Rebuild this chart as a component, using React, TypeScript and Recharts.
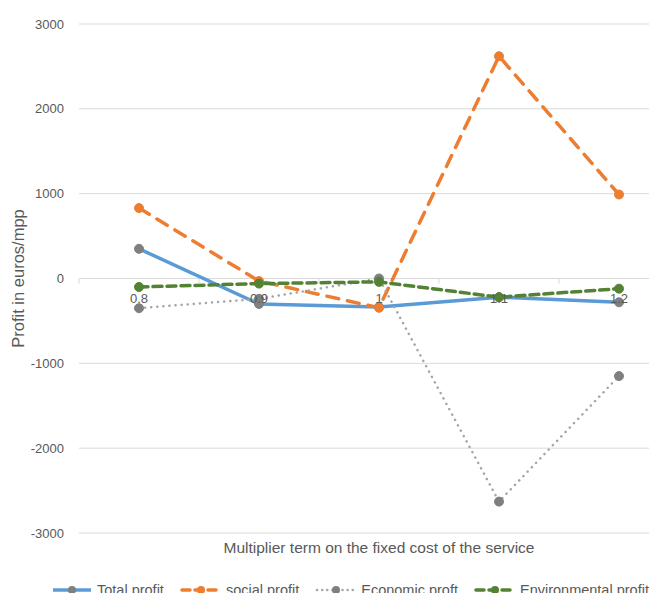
import React from 'react';
import { LineChart, Line, XAxis, YAxis, CartesianGrid } from 'recharts';

const multipliers = ['0.8', '0.9', '1', '1.1', '1.2'];
const totalProfit = [350, -300, -335, -220, -280];
const socialProfit = [830, -30, -345, 2620, 990];
const economicProfit = [-350, -240, 0, -2630, -1150];
const environmentalProfit = [-100, -60, -40, -220, -120];
const yTicks = [-3000, -2000, -1000, 0, 1000, 2000, 3000];

const data = multipliers.map((m, i) => ({
  m,
  total: totalProfit[i],
  social: socialProfit[i],
  economic: economicProfit[i],
  environmental: environmentalProfit[i],
}));

const W = 680;
const H = 601;
const TOP = 24;
const BOTTOM = 23;
const X_AXIS_H = 45;
const PLOT_H = H - TOP - BOTTOM - X_AXIS_H;
const ZERO_Y = TOP + PLOT_H / 2; // domain is symmetric
const BAND = 120;
const TEXT = '#595959';
const FONT = '"Liberation Sans", Arial, sans-serif';

const series = [
  { key: 'total', name: 'Total profit', color: '#5b9bd5', dot: '#7f7f7f', dash: undefined, width: 3.5 },
  { key: 'social', name: 'social profit', color: '#ed7d31', dot: '#ed7d31', dash: '12 9', width: 3.5 },
  { key: 'economic', name: 'Economic proft', color: '#a5a5a5', dot: '#7f7f7f', dash: '0.1 6', width: 2.5 },
  { key: 'environmental', name: 'Environmental profit', color: '#548235', dot: '#548235', dash: '9 5', width: 3.5 },
];

// x labels sit on the zero line, like Excel's crossing axis
const ZeroTick = (props: any) => {
  const { x, payload } = props;
  return (
    <g>
      <line x1={x - BAND / 2} x2={x - BAND / 2} y1={ZERO_Y} y2={ZERO_Y + 5} stroke="#d9d9d9" />
      <text x={x} y={ZERO_Y + 24} textAnchor="middle" fill={TEXT} fontSize={13} fontFamily={FONT}>
        {payload.value}
      </text>
    </g>
  );
};

const Dot = (color: string) => (props: any) => {
  const { cx, cy } = props;
  if (cx == null || cy == null) return null;
  return <circle key={`${cx}-${cy}`} cx={cx} cy={cy} r={4.5} fill={color} stroke={color} />;
};

const ChartLegend = () => (
  <div
    style={{
      position: 'absolute',
      left: 0,
      top: 580,
      display: 'flex',
      alignItems: 'center',
      height: 20,
      paddingLeft: 51,
      fontFamily: FONT,
      fontSize: 14.5,
      lineHeight: '20px',
      color: TEXT,
      whiteSpace: 'nowrap',
    }}
  >
    {series.map((s) => (
      <div key={s.key} style={{ display: 'flex', alignItems: 'center', marginRight: 16 }}>
        <svg width={42} height={10} style={{ marginRight: 4, display: 'block' }}>
          <line
            x1={2}
            x2={40}
            y1={5}
            y2={5}
            stroke={s.color}
            strokeWidth={s.width}
            strokeDasharray={s.key === 'economic' ? '0.1 5' : s.dash ? '8 5' : undefined}
            strokeLinecap={s.dash ? 'round' : 'butt'}
          />
          <circle cx={21} cy={5} r={4} fill={s.dot} />
        </svg>
        <span>{s.name}</span>
      </div>
    ))}
  </div>
);

export default function App() {
  return (
    <div
      style={{ position: 'relative', margin: -8, width: 657, height: H, overflow: 'hidden', background: '#fff' }}
    >
      <LineChart width={W} height={H} data={data} margin={{ top: TOP, right: 1, bottom: BOTTOM, left: 0 }}>
        <CartesianGrid vertical={false} stroke="#d9d9d9" strokeWidth={1} />
        <XAxis
          dataKey="m"
          height={X_AXIS_H}
          axisLine={false}
          tickLine={false}
          tick={<ZeroTick />}
          interval={0}
          padding={{ left: BAND / 2, right: BAND / 2 }}
          label={{
            value: 'Multiplier term on the fixed cost of the service',
            position: 'insideTop',
            offset: 9,
            fill: TEXT,
            fontSize: 15.5,
            fontFamily: FONT,
          }}
        />
        <YAxis
          width={79}
          domain={[-3000, 3000]}
          ticks={yTicks}
          axisLine={false}
          tickLine={false}
          tickSize={0}
          tickMargin={15}
          tick={{ fill: TEXT, fontSize: 13, fontFamily: FONT }}
          label={{
            value: 'Profit in euros/mpp',
            angle: -90,
            position: 'center',
            dx: -21,
            fill: TEXT,
            fontSize: 16.5,
            fontFamily: FONT,
          }}
        />
        {series.map((s) => (
          <Line
            key={s.key}
            dataKey={s.key}
            name={s.name}
            type="linear"
            stroke={s.color}
            strokeWidth={s.width}
            strokeDasharray={s.dash}
            strokeLinecap="round"
            dot={Dot(s.dot)}
            activeDot={false}
            isAnimationActive={false}
          />
        ))}
      </LineChart>
      <ChartLegend />
    </div>
  );
}
